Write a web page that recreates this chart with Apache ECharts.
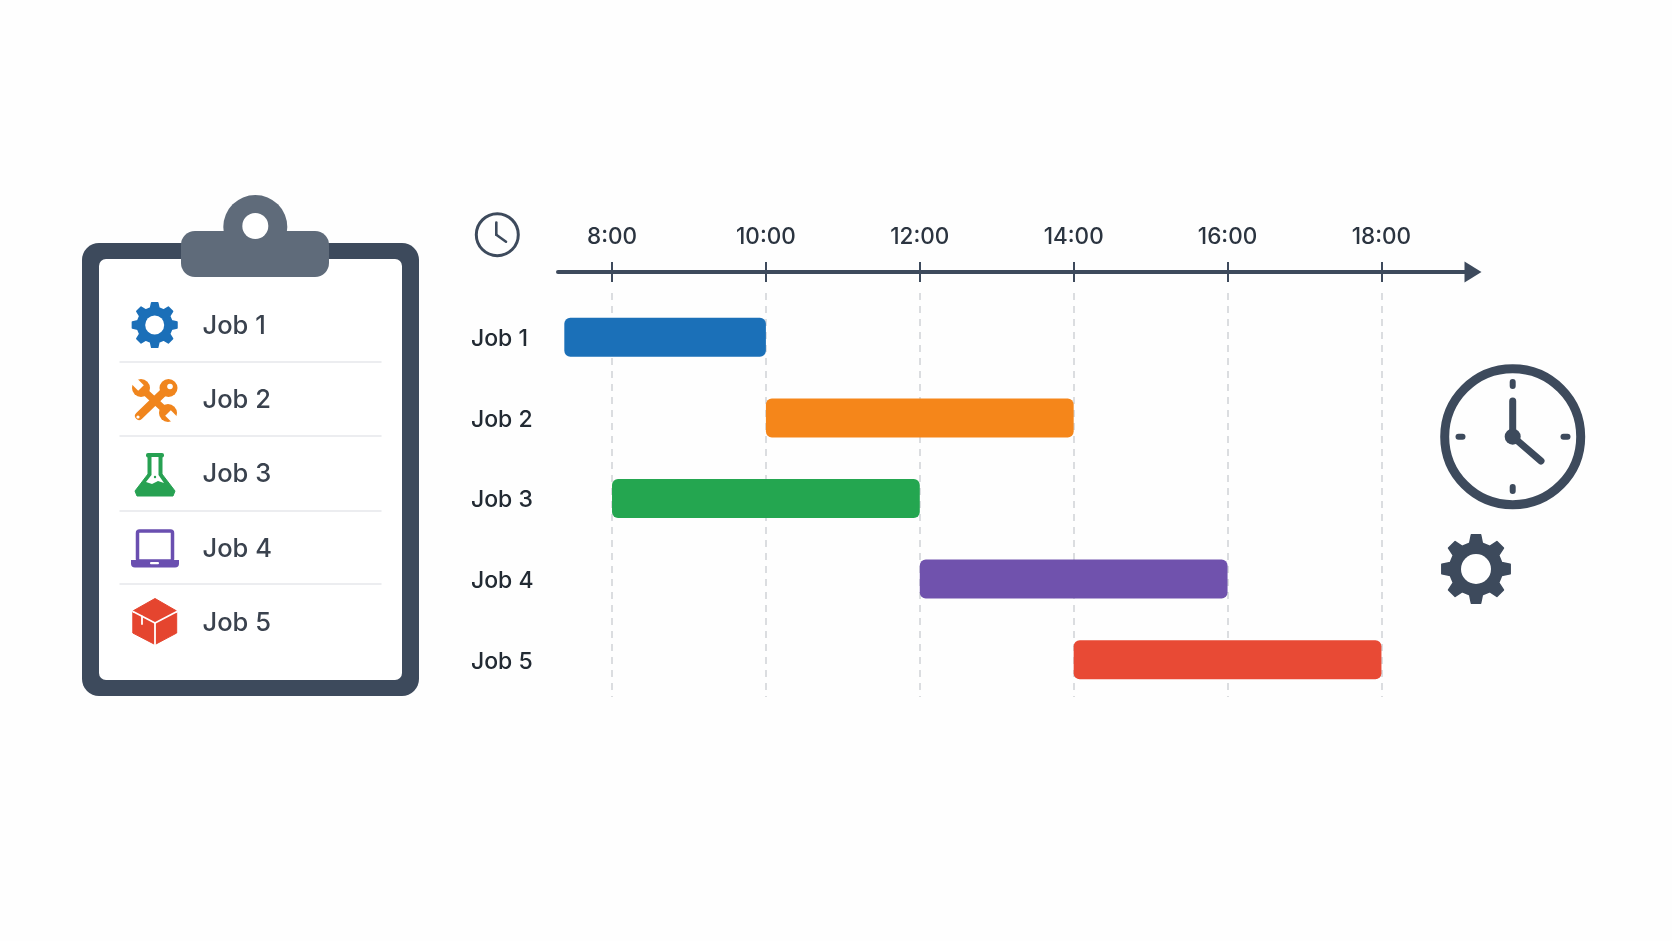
<!DOCTYPE html>
<html>
<head>
<meta charset="utf-8">
<style>html,body{margin:0;padding:0;background:#fefefe}#c{width:1672px;height:941px}</style>
<script src="https://cdn.jsdelivr.net/npm/echarts@6/dist/echarts.min.js"></script>
</head>
<body>
<div id="c"></div>
<script>
const jobs = ['Job 1', 'Job 2', 'Job 3', 'Job 4', 'Job 5'];
const startHours = [7.38, 10, 8, 12, 14];
const endHours = [10, 14, 12, 16, 18];
const barColors = ['#1b70b8', '#f5861a', '#24a650', '#7052ad', '#e84a35'];
const tickHours = [8, 10, 12, 14, 16, 18];
const tickLabels = ['8:00', '10:00', '12:00', '14:00', '16:00', '18:00'];

const DARK = '#3d4a5c', FONT = 'Inter, "Open Sans", sans-serif';
const axisMin = 7.298, axisMax = 19.19;

function gearPoints(cx, cy, rOut, rIn) {
  const pts = [], n = 8, step = Math.PI * 2 / n;
  for (let i = 0; i < n; i++) {
    const a = i * step - Math.PI / 2;
    [[rIn, -0.27], [rOut, -0.15], [rOut, 0.15], [rIn, 0.27]].forEach(p => {
      const t = a + p[1] * step * 1.15;
      pts.push([cx + p[0] * Math.cos(t), cy + p[0] * Math.sin(t)]);
    });
  }
  return pts;
}
function gear(cx, cy, rOut, rIn, rHole, color) {
  return [
    {type:'polygon', shape:{points:gearPoints(cx,cy,rOut,rIn)}, style:{fill:color, stroke:color, lineWidth:1.5, lineJoin:'round'}},
    {type:'circle', shape:{cx,cy,r:rHole}, style:{fill:'#fff'}}
  ];
}
function seg(x1,y1,x2,y2,color,w) {
  return {type:'line', shape:{x1,y1,x2,y2}, style:{stroke:color, lineWidth:w, lineCap:'round'}};
}
function rect(x,y,width,height,r,fill,extra) {
  return {type:'rect', shape:{x,y,width,height,r}, style:Object.assign({fill},extra||{})};
}

const O = '#f0851d', G = '#27a152', P = '#6a4fb0', R = '#e5452f', B = '#1b6fb8';
const rowTextY = [326, 400, 474.5, 549, 623];
const sepY = [362, 436, 511, 584];

const deco = [
  // clipboard
  rect(82,243,337,453,17,DARK),
  rect(99,259,303,421,7,'#fff'),
  {type:'circle', shape:{cx:255.3,cy:227,r:32}, style:{fill:'#5f6b7a'}},
  rect(181,231,148,46,14,'#5f6b7a'),
  {type:'circle', shape:{cx:255.3,cy:226,r:13}, style:{fill:'#fff'}},
  ...sepY.map(y => seg(120,y,381,y,'#e6e8eb',1.5)),
  ...jobs.map((t,i) => ({type:'text', x:202.5, y:rowTextY[i], style:{text:t, fill:'#3a424e', font:'500 25.5px '+FONT, textVerticalAlign:'middle'}})),
  // gear icon
  ...gear(154.7,325,22.5,17.5,9.5,B),
  // tools icon
  seg(139,416,167,389,O,8),
  seg(142,389,167,412,O,7),
  {type:'circle', shape:{cx:168.5,cy:388,r:9}, style:{fill:O}},
  {type:'circle', shape:{cx:170,cy:386.5,r:2.8}, style:{fill:'#fff'}},
  {type:'circle', shape:{cx:141,cy:388,r:9}, style:{fill:O}},
  {type:'polygon', shape:{points:[[143.8,385.2],[138.2,390.8],[129,381.6],[134.6,376]]}, style:{fill:'#fff'}},
  {type:'circle', shape:{cx:168,cy:413,r:9}, style:{fill:O}},
  {type:'polygon', shape:{points:[[165.2,415.8],[170.8,410.2],[180,419.4],[174.4,425]]}, style:{fill:'#fff'}},
  {type:'circle', shape:{cx:138,cy:417,r:1.6}, style:{fill:'#fff'}},
  // flask icon
  rect(146,453,18,4.5,2,G),
  {type:'polygon', shape:{points:[[148,456],[162,456],[162,474],[175,491],[173,496],[137,496],[135,491],[148,474]]}, style:{fill:G, stroke:G, lineWidth:1, lineJoin:'round'}},
  {type:'polygon', shape:{points:[[151.5,457],[158.5,457],[158.5,475],[164,483],[158,481],[152,484],[146,482],[151.5,475]]}, style:{fill:'#fff'}},
  {type:'circle', shape:{cx:155,cy:477,r:1.2}, style:{fill:G}},
  // laptop icon
  {type:'rect', shape:{x:137.5,y:531,width:35,height:30,r:2}, style:{fill:'#fff', stroke:P, lineWidth:3.5}},
  rect(131,560,48,7.5,[0,0,4,4],P),
  rect(150,562,9,2.2,1,'#fff'),
  // box icon
  {type:'polygon', shape:{points:[[155,598.5],[176.7,611],[176.7,633],[155,644.5],[132.8,633],[132.8,611]]}, style:{fill:R, stroke:R, lineWidth:1, lineJoin:'round'}},
  seg(133,611.5,155,623,'#fff',1.8),
  seg(177,611.5,155,623,'#fff',1.8),
  seg(155,623,155,645,'#fff',1.8),
  seg(142,616.5,142,624,'#fff',1.8),
  // small clock
  {type:'circle', shape:{cx:497.3,cy:234.7,r:21}, style:{fill:'none', stroke:DARK, lineWidth:3}},
  seg(496.3,222.5,496.3,234.7,DARK,2.6),
  seg(496.3,234.7,506,241.7,DARK,2.6),
  // big clock
  {type:'circle', shape:{cx:1512.7,cy:436.7,r:68}, style:{fill:'none', stroke:DARK, lineWidth:9}},
  seg(1512.7,382,1512.7,386,DARK,6),
  seg(1512.7,487,1512.7,491,DARK,6),
  seg(1458.5,436.7,1462.5,436.7,DARK,6),
  seg(1563.5,436.7,1567.5,436.7,DARK,6),
  seg(1512.7,401,1512.7,436.7,DARK,7),
  seg(1512.7,436.7,1541,461,DARK,7),
  {type:'circle', shape:{cx:1512.7,cy:436.7,r:8}, style:{fill:DARK}},
  // lower gear
  ...gear(1476,569,34.5,26.5,15,DARK)
];

function renderBar(params, api) {
  const a = api.coord([api.value(0), api.value(2)]);
  const b = api.coord([api.value(1), api.value(2)]);
  const h = 39;
  return {
    type:'rect',
    shape:{x:a[0], y:a[1]-h/2, width:b[0]-a[0], height:h, r:6},
    style:{fill:barColors[params.dataIndex]}
  };
}

const chart = echarts.init(document.getElementById('c'), null, {renderer:'canvas'});
chart.setOption({
  animation:false,
  backgroundColor:'#fefefe',
  textStyle:{fontFamily:FONT},
  grid:[
    {left:558, width:915, top:297, height:403},
    {left:558, width:915, top:293, height:404}
  ],
  xAxis:[
    {
      type:'value', gridIndex:0, position:'top', offset:25, min:axisMin, max:axisMax,
      axisLine:{show:true, onZero:false, symbol:['none','triangle'], symbolSize:[21,17], lineStyle:{color:DARK, width:4, cap:'round'}},
      axisTick:{show:true, customValues:tickHours, length:10, lineStyle:{color:DARK, width:2}},
      axisLabel:{show:true, customValues:tickHours, margin:23, fontSize:22.5, fontWeight:500, color:'#2b3440', fontFamily:FONT,
        formatter:v => tickLabels[tickHours.indexOf(v)]},
      splitLine:{show:false}
    },
    {
      type:'value', gridIndex:1, position:'top', offset:21, min:axisMin, max:axisMax,
      axisLine:{show:false, onZero:false},
      axisTick:{show:true, inside:true, customValues:tickHours, length:10, lineStyle:{color:DARK, width:2}},
      axisLabel:{show:false},
      splitLine:{show:true, lineStyle:{color:'#cfd2d6', type:[7,6], width:1.5}}
    }
  ],
  yAxis:[
    {
      type:'category', gridIndex:0, data:jobs, inverse:true,
      axisLine:{show:false}, axisTick:{show:false}, splitLine:{show:false},
      axisLabel:{margin:87, align:'left', verticalAlign:'top', lineHeight:4, fontSize:23, fontWeight:500, color:'#222a33', fontFamily:FONT}
    },
    {type:'value', gridIndex:1, show:false}
  ],
  series:[{
    type:'custom', xAxisIndex:0, yAxisIndex:0, renderItem:renderBar,
    encode:{x:[0,1], y:2},
    data:jobs.map((j,i) => [startHours[i], endHours[i], i]),
    z:5
  }],
  graphic:deco
});
</script>
</body>
</html>
